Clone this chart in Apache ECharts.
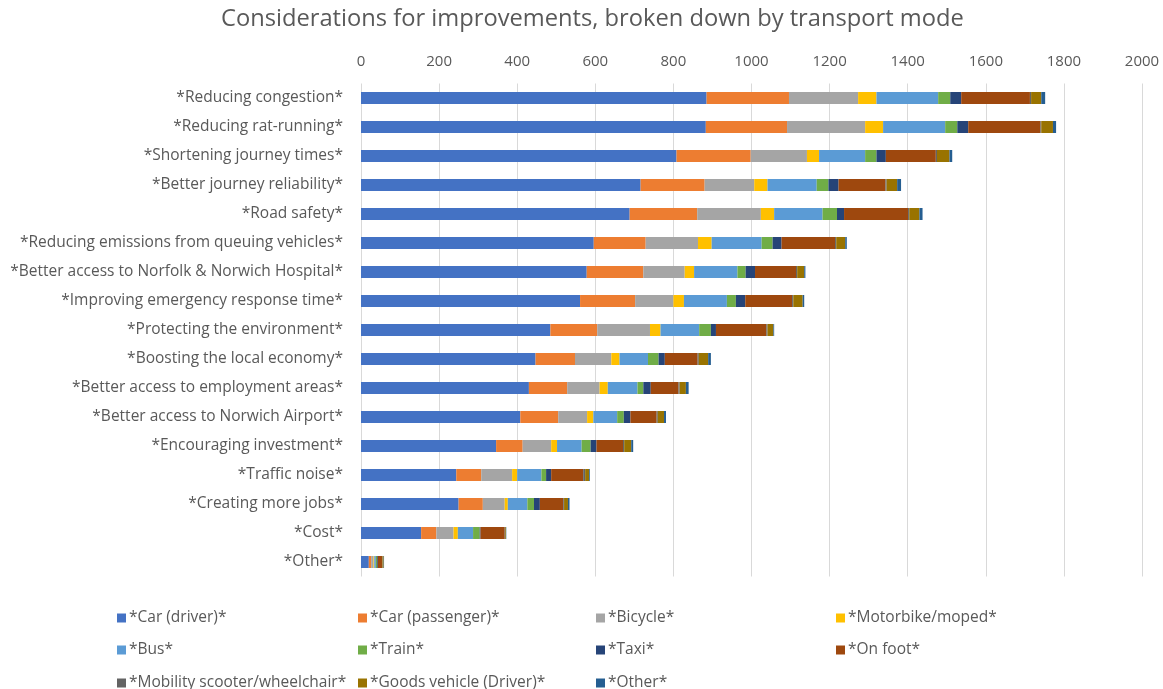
<!DOCTYPE html>
<html>
<head>
<meta charset="utf-8">
<script src="https://cdn.jsdelivr.net/npm/echarts@6/dist/echarts.min.js"></script>
<style>
html,body{margin:0;padding:0;background:#fff;}
#chart{width:1163px;height:689px;}
</style>
</head>
<body>
<div id="chart"></div>
<script>
const categories = [
  '*Reducing congestion*',
  '*Reducing rat-running*',
  '*Shortening journey times*',
  '*Better journey reliability*',
  '*Road safety*',
  '*Reducing emissions from queuing vehicles*',
  '*Better access to Norfolk & Norwich Hospital*',
  '*Improving emergency response time*',
  '*Protecting the environment*',
  '*Boosting the local economy*',
  '*Better access to employment areas*',
  '*Better access to Norwich Airport*',
  '*Encouraging investment*',
  '*Traffic noise*',
  '*Creating more jobs*',
  '*Cost*',
  '*Other*'
];
const xTicks = [0, 200, 400, 600, 800, 1000, 1200, 1400, 1600, 1800, 2000];

const carDriver    = [885, 883, 808, 716, 688, 596, 578, 561, 485, 447, 430, 408, 346, 244, 250, 154, 20];
const carPassenger = [211, 208, 190, 164, 173, 133, 145, 141, 120, 101, 98, 97, 68, 64, 62, 39, 6];
const bicycle      = [177, 200, 144, 127, 163, 134, 106, 98, 135, 93, 83, 74, 73, 79, 56, 44, 6];
const motorbike    = [47, 46, 31, 34, 34, 35, 24, 27, 27, 21, 21, 16, 15, 13, 8, 11, 2];
const bus          = [158, 159, 118, 126, 124, 128, 111, 110, 99, 73, 76, 61, 63, 62, 50, 39, 4];
const train        = [31, 31, 29, 30, 37, 28, 21, 23, 30, 27, 15, 17, 23, 12, 17, 17, 3];
const taxi         = [28, 28, 24, 26, 18, 23, 24, 24, 13, 16, 19, 17, 15, 13, 15, 2, 2];
const onFoot       = [176, 185, 128, 120, 164, 137, 105, 120, 129, 84, 71, 67, 68, 82, 60, 62, 11];
const mobility     = [3, 2, 3, 3, 3, 3, 3, 3, 3, 3, 3, 3, 3, 5, 2, 1, 1];
const goods        = [26, 30, 32, 27, 26, 23, 18, 24, 15, 24, 16, 16, 18, 10, 10, 2, 3];
const otherMode    = [10, 8, 7, 10, 8, 4, 3, 4, 2, 7, 7, 5, 5, 2, 4, 1, 1];

const seriesNames = ['*Car (driver)*','*Car (passenger)*','*Bicycle*','*Motorbike/moped*','*Bus*','*Train*','*Taxi*','*On foot*','*Mobility scooter/wheelchair*','*Goods vehicle (Driver)*','*Other*'];
const seriesData = [carDriver, carPassenger, bicycle, motorbike, bus, train, taxi, onFoot, mobility, goods, otherMode];
const colors = ['#4472C4','#ED7D31','#A5A5A5','#FFC000','#5B9BD5','#70AD47','#264478','#9E480E','#636363','#997300','#255E91'];

const FONT = 'Open Sans';
const TXT = '#595959';

const series = seriesNames.map((n, i) => ({
  name: n,
  type: 'bar',
  stack: 'total',
  barWidth: 12,
  data: seriesData[i],
  itemStyle: { color: colors[i] },
  emphasis: { disabled: true }
}));

// legend grid: 4 columns x 3 rows, row-major order
const legendColX = [117, 358, 596, 836];
const legendRowY = [610, 642, 675];
const legends = seriesNames.map((n, i) => ({
  left: legendColX[i % 4],
  top: legendRowY[Math.floor(i / 4)],
  itemWidth: 9,
  itemHeight: 9,
  itemGap: 0,
  icon: 'rect',
  selectedMode: false,
  padding: 0,
  data: [n],
  textStyle: { color: TXT, fontSize: 15.5, fontFamily: FONT, padding: [0, 0, 0, -2] }
}));

const chart = echarts.init(document.getElementById('chart'), null, { renderer: 'canvas' });
chart.setOption({
  animation: false,
  color: colors,
  title: {
    text: 'Considerations for improvements, broken down by transport mode',
    left: 221,
    top: 7,
    padding: 0,
    textStyle: { color: TXT, fontSize: 23.7, fontWeight: 'normal', fontFamily: FONT }
  },
  legend: legends,
  grid: { left: 361, right: 21, top: 83.5, bottom: 112.5, containLabel: false },
  xAxis: {
    type: 'value',
    position: 'top',
    min: xTicks[0],
    max: xTicks[xTicks.length - 1],
    interval: xTicks[1] - xTicks[0],
    axisLine: { show: false },
    axisTick: { show: false },
    splitLine: { lineStyle: { color: '#d9d9d9', width: 1 } },
    axisLabel: { color: TXT, fontSize: 15, fontFamily: FONT, margin: 14, formatter: v => String(v) }
  },
  yAxis: {
    type: 'category',
    inverse: true,
    data: categories,
    axisLine: { show: false },
    axisTick: { show: false },
    axisLabel: { color: TXT, fontSize: 15.5, fontFamily: FONT, margin: 18 }
  },
  series: series
});
</script>
</body>
</html>
